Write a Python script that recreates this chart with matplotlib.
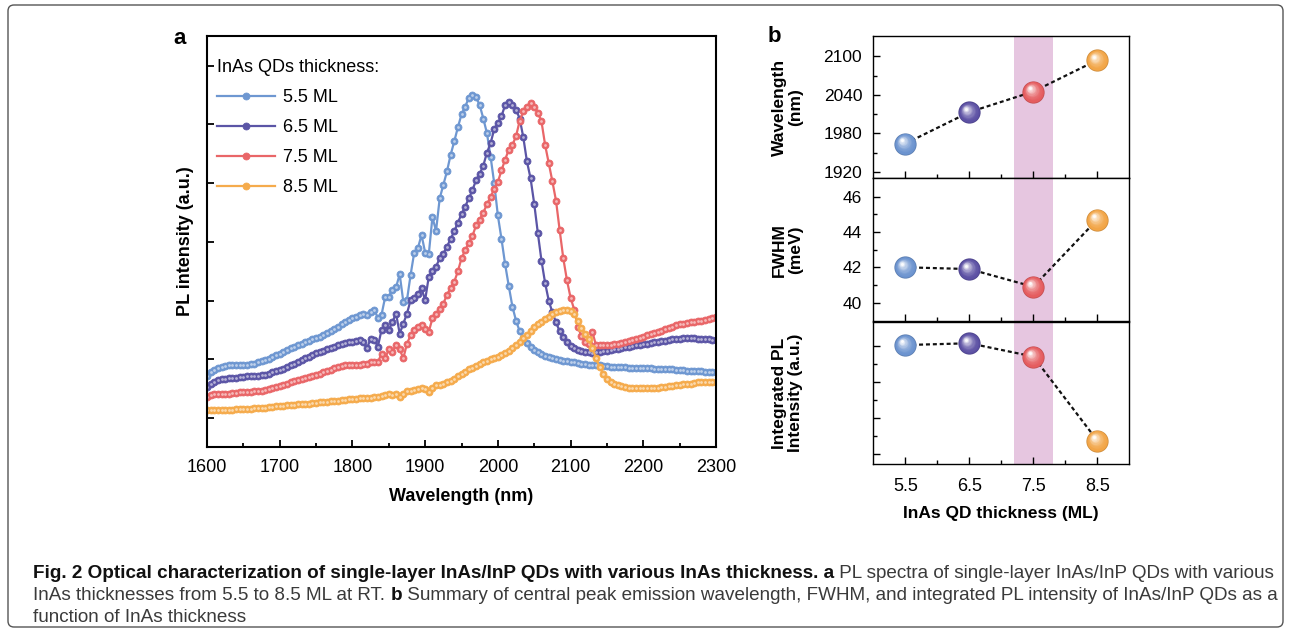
import numpy as np
import matplotlib
matplotlib.use('Agg')
import matplotlib.pyplot as plt
from matplotlib import transforms
from matplotlib.patches import FancyBboxPatch
from matplotlib.colors import to_rgb

plt.rcParams['font.family'] = ['Liberation Sans', 'DejaVu Sans']

# ---------------- data: panel a (PL spectra, arb. units) ----------------
wavelength = np.arange(1600, 2301, 5)

pl_55 = [0.72, 0.78, 0.82, 0.85, 0.87, 0.89, 0.90, 0.91, 0.90, 0.90,
         0.91, 0.91, 0.92, 0.93, 0.95, 0.97, 0.99, 1.01, 1.04, 1.07,
         1.10, 1.13, 1.16, 1.19, 1.22, 1.25, 1.27, 1.29, 1.32, 1.35,
         1.37, 1.39, 1.42, 1.45, 1.48, 1.52, 1.56, 1.60, 1.64, 1.67,
         1.70, 1.73, 1.75, 1.78, 1.75, 1.80, 1.84, 1.71, 1.76, 2.06,
         2.07, 2.19, 2.23, 2.45, 1.98, 2.01, 2.44, 2.82, 2.89, 3.12,
         2.82, 2.79, 3.42, 3.19, 3.74, 3.97, 4.20, 4.48, 4.71, 4.95,
         5.17, 5.30, 5.45, 5.50, 5.46, 5.33, 5.10, 4.85, 4.45, 4.00,
         3.45, 3.05, 2.62, 2.25, 1.90, 1.66, 1.48, 1.36, 1.28, 1.21,
         1.16, 1.12, 1.09, 1.06, 1.04, 1.02, 1.00, 0.99, 0.98, 0.97,
         0.96, 0.95, 0.94, 0.93, 0.92, 0.91, 0.91, 0.90, 0.90, 0.89,
         0.89, 0.88, 0.88, 0.87, 0.87, 0.87, 0.86, 0.86, 0.86, 0.86,
         0.85, 0.85, 0.85, 0.84, 0.84, 0.84, 0.83, 0.83, 0.83, 0.82,
         0.82, 0.82, 0.81, 0.81, 0.81, 0.80, 0.80, 0.79, 0.79, 0.78,
         0.78]

pl_65 = [0.53, 0.58, 0.62, 0.65, 0.66, 0.67, 0.68, 0.69, 0.69, 0.70,
         0.70, 0.71, 0.71, 0.72, 0.72, 0.73, 0.74, 0.76, 0.78, 0.80,
         0.82, 0.84, 0.87, 0.90, 0.93, 0.96, 0.99, 1.02, 1.05, 1.08,
         1.11, 1.13, 1.15, 1.17, 1.20, 1.22, 1.24, 1.26, 1.28, 1.29,
         1.30, 1.31, 1.33, 1.30, 1.19, 1.35, 1.33, 1.22, 1.50, 1.58,
         1.50, 1.64, 1.78, 1.44, 1.61, 1.78, 2.01, 2.04, 2.12, 2.21,
         2.01, 2.41, 2.50, 2.58, 2.72, 2.80, 2.92, 3.05, 3.18, 3.33,
         3.47, 3.60, 3.74, 3.88, 4.05, 4.16, 4.30, 4.52, 4.68, 4.92,
         5.03, 5.14, 5.33, 5.38, 5.33, 5.25, 5.10, 4.78, 4.37, 4.08,
         3.65, 3.15, 2.68, 2.30, 2.00, 1.80, 1.63, 1.48, 1.38, 1.29,
         1.23, 1.19, 1.16, 1.14, 1.13, 1.12, 1.11, 1.12, 1.13, 1.14,
         1.15, 1.16, 1.17, 1.18, 1.19, 1.21, 1.22, 1.23, 1.24, 1.25,
         1.26, 1.27, 1.28, 1.29, 1.30, 1.31, 1.32, 1.33, 1.34, 1.35,
         1.35, 1.36, 1.36, 1.36, 1.36, 1.35, 1.35, 1.34, 1.34, 1.33,
         1.33]

pl_75 = [0.36, 0.39, 0.41, 0.42, 0.42, 0.42, 0.42, 0.43, 0.43, 0.44,
         0.44, 0.45, 0.45, 0.46, 0.46, 0.47, 0.48, 0.49, 0.51, 0.53,
         0.55, 0.57, 0.59, 0.61, 0.63, 0.65, 0.66, 0.68, 0.70, 0.72,
         0.74, 0.76, 0.78, 0.80, 0.82, 0.85, 0.87, 0.89, 0.90, 0.91,
         0.91, 0.90, 0.90, 0.92, 0.93, 0.95, 0.96, 0.95, 1.10, 1.02,
         1.17, 1.12, 1.25, 1.17, 1.02, 1.27, 1.41, 1.50, 1.55, 1.58,
         1.52, 1.47, 1.70, 1.78, 1.86, 1.95, 2.10, 2.22, 2.32, 2.50,
         2.72, 2.86, 2.98, 3.10, 3.28, 3.38, 3.50, 3.64, 3.77, 3.90,
         4.02, 4.22, 4.40, 4.57, 4.65, 4.80, 5.06, 5.22, 5.30, 5.37,
         5.30, 5.20, 5.05, 4.65, 4.34, 4.03, 3.70, 3.20, 2.72, 2.35,
         2.05, 1.85, 1.55, 1.40, 1.30, 1.26, 1.47, 1.24, 1.24, 1.24,
         1.25, 1.25, 1.26, 1.27, 1.28, 1.30, 1.31, 1.33, 1.35, 1.37,
         1.39, 1.41, 1.43, 1.45, 1.47, 1.49, 1.52, 1.54, 1.56, 1.58,
         1.60, 1.61, 1.62, 1.63, 1.64, 1.65, 1.66, 1.67, 1.69, 1.71,
         1.73]

pl_85 = [0.14, 0.14, 0.14, 0.14, 0.14, 0.14, 0.14, 0.14, 0.15, 0.15,
         0.15, 0.16, 0.16, 0.17, 0.17, 0.18, 0.18, 0.19, 0.19, 0.20,
         0.21, 0.21, 0.22, 0.22, 0.23, 0.24, 0.24, 0.25, 0.25, 0.26,
         0.26, 0.27, 0.28, 0.28, 0.29, 0.30, 0.30, 0.31, 0.31, 0.32,
         0.33, 0.33, 0.34, 0.34, 0.35, 0.35, 0.36, 0.36, 0.38, 0.40,
         0.42, 0.40, 0.41, 0.36, 0.42, 0.46, 0.47, 0.48, 0.49, 0.51,
         0.50, 0.45, 0.52, 0.56, 0.57, 0.59, 0.62, 0.64, 0.67, 0.71,
         0.75, 0.79, 0.83, 0.86, 0.89, 0.92, 0.95, 0.98, 1.01, 1.03,
         1.05, 1.08, 1.11, 1.15, 1.19, 1.24, 1.30, 1.36, 1.42, 1.49,
         1.55, 1.60, 1.64, 1.68, 1.73, 1.77, 1.80, 1.83, 1.85, 1.85,
         1.83, 1.77, 1.66, 1.54, 1.44, 1.34, 1.20, 1.02, 0.87, 0.75,
         0.67, 0.62, 0.58, 0.56, 0.54, 0.53, 0.52, 0.52, 0.51, 0.51,
         0.51, 0.51, 0.51, 0.52, 0.52, 0.53, 0.53, 0.54, 0.55, 0.56,
         0.57, 0.58, 0.59, 0.59, 0.60, 0.61, 0.61, 0.62, 0.62, 0.62,
         0.61]

series_labels = ['5.5 ML', '6.5 ML', '7.5 ML', '8.5 ML']
series_values = [pl_55, pl_65, pl_75, pl_85]
line_colors = ['#6e97d1', '#5b55a6', '#e96668', '#f5ab4c']

# ---------------- data: panel b (summary) ----------------
thickness = [5.5, 6.5, 7.5, 8.5]
peak_wavelength = [1964, 2013, 2045, 2094]
fwhm = [42.0, 41.9, 40.9, 44.7]
integrated_pl = [4.02, 4.07, 3.70, 1.36]
sphere_colors = ['#6b93cf', '#5b4fa3', '#e55c5f', '#f2a546']

W, H = 1290, 632
fig = plt.figure(figsize=(W / 100, H / 100), dpi=100)

# ================= panel a =================
ax = fig.add_axes([207 / W, 1 - 447 / H, 509 / W, (447 - 35.7) / H])
handles = []
for lab, vals, col in zip(series_labels, series_values, line_colors):
    h, = ax.plot(wavelength, vals, '-o', color=col, lw=1.6, ms=5.0,
                 mfc=col, mec=col, mew=0.6, label=lab, zorder=2)
    ax.plot(wavelength, vals, 'o', ms=2.0, color='white', alpha=0.55,
            mec='none', zorder=2)
    handles.append(h)

ax.set_xlim(1600, 2300)
ax.set_ylim(-0.49, 6.51)
ax.set_xticks(np.arange(1600, 2301, 100))
ax.set_xticks(np.arange(1650, 2300, 100), minor=True)
ax.set_yticks(np.arange(0, 7))
ax.set_yticklabels([])
ax.tick_params(which='both', direction='in', width=1.3, labelsize=13, pad=9)
ax.tick_params(which='major', length=5)
ax.tick_params(which='minor', length=3)
for sp in ax.spines.values():
    sp.set_linewidth(1.5)
ax.set_xlabel('Wavelength (nm)', fontsize=13, fontweight='bold')
ax.xaxis.set_label_coords(0.5, -0.1)
ax.set_ylabel('PL intensity (a.u.)', fontsize=13, fontweight='bold')
ax.yaxis.set_label_coords(-0.025, 0.5)

leg = ax.legend(handles=handles, title='InAs QDs thickness:', loc='upper left',
                bbox_to_anchor=(0.02, 0.943), frameon=False, fontsize=13,
                title_fontsize=13, handlelength=3.2, handletextpad=0.45,
                labelspacing=0.72, borderpad=0, borderaxespad=0,
                alignment='left', numpoints=1)

fig.text(180 / W, 1 - 39 / H, 'a', fontsize=16, fontweight='bold',
         ha='center', va='center')
fig.text(774 / W, 1 - 37 / H, 'b', fontsize=16, fontweight='bold',
         ha='center', va='center')


# ================= panel b =================
def sphere(axis, xs, ys, colors, ms=16):
    for x, y, c in zip(xs, ys, colors):
        base = np.array(to_rgb(c))
        axis.plot([x], [y], 'o', ms=ms, color=base * 0.85, mec='none', zorder=3)
        n = 12
        for i in range(n):
            f = i / (n - 1)
            col = base * (1 - 0.97 * f ** 1.8) + 0.97 * f ** 1.8
            size = ms * (0.93 - 0.8 * f)
            tr = transforms.offset_copy(axis.transData, fig=axis.figure,
                                        x=-0.16 * ms * f, y=0.16 * ms * f,
                                        units='points')
            axis.plot([x], [y], 'o', ms=size, color=col, mec='none',
                      transform=tr, zorder=3 + 0.01 * i)


tops = [35.7, 178.3, 321.7]
hgt = 142.6
axes_b = [fig.add_axes([873.3 / W, 1 - (t + hgt) / H, 256 / W, hgt / H]) for t in tops]
b_values = [peak_wavelength, fwhm, integrated_pl]
b_labels = ['Wavelength\n(nm)', 'FWHM\n(meV)', 'Integrated PL\nIntensity (a.u.)']
b_ylims = [(1910, 2132), (38.97, 47.03), (0.70, 4.67)]
b_major = [[1920, 1980, 2040, 2100], [40, 42, 44, 46], [1, 2, 3, 4]]
b_minor = [[1950, 2010, 2070], [41, 43, 45], [1.5, 2.5, 3.5]]

for i, (axb, vals) in enumerate(zip(axes_b, b_values)):
    axb.axvspan(7.2, 7.8, color='#e6c6e0', lw=0, zorder=0)
    axb.plot(thickness, vals, '--', color='#111111', lw=1.6,
             dashes=(1.8, 1.3), zorder=2)
    sphere(axb, thickness, vals, sphere_colors)
    axb.set_xlim(5, 9)
    axb.set_ylim(*b_ylims[i])
    axb.set_xticks(thickness)
    axb.set_xticks([6, 7, 8], minor=True)
    axb.set_yticks(b_major[i])
    axb.set_yticks(b_minor[i], minor=True)
    axb.tick_params(which='both', direction='in', width=1.0, labelsize=12.5, pad=8)
    axb.tick_params(which='major', length=5)
    axb.tick_params(which='minor', length=3)
    for sp in axb.spines.values():
        sp.set_linewidth(1.0)
    axb.set_ylabel(b_labels[i], fontsize=12.5, fontweight='bold', linespacing=1.05)
    axb.yaxis.set_label_coords(-0.275, 0.5)
    if i < 2:
        axb.set_xticklabels([])
    else:
        axb.set_yticklabels([])
        axb.tick_params(axis='x', labelsize=13, pad=10)
        axb.set_xlabel('InAs QD thickness (ML)', fontsize=12.5, fontweight='bold')
        axb.xaxis.set_label_coords(0.5, -0.29)

# ================= caption =================
cap_family = ['Liberation Sans Narrow', 'Liberation Sans']
cap_lines = [
    [('Fig. 2 Optical characterization of single-layer InAs/InP QDs with various InAs thickness. a', True),
     (' PL spectra of single-layer InAs/InP QDs with various', False)],
    [('InAs thicknesses from 5.5 to 8.5 ML at RT. ', False), ('b', True),
     (' Summary of central peak emission wavelength, FWHM, and integrated PL intensity of InAs/InP QDs as a', False)],
    [('function of InAs thickness', False)],
]
cap_y = [578, 600, 622]
renderer = fig.canvas.get_renderer()

objs = []
for runs, yb in zip(cap_lines, cap_y):
    line = []
    for s, bold in runs:
        t = fig.text(33 / W, 1 - yb / H, s, fontsize=10, family=cap_family,
                     fontweight='bold' if bold else 'normal',
                     color='#111111' if bold else '#3a3a3a', va='baseline')
        line.append(t)
    objs.append(line)


def layout(size):
    widths = []
    for line in objs:
        x = 33.0
        for t in line:
            t.set_fontsize(size)
            t.set_x(x / W)
            x += t.get_window_extent(renderer).width
        widths.append(x - 33.0)
    return widths


w0 = layout(10)[0]
layout(10 * (1275 - 33) / w0)

border = FancyBboxPatch((8, H - 627), 1275, 622,
                        boxstyle='round,pad=0,rounding_size=6',
                        transform=transforms.IdentityTransform(),
                        fill=False, ec='#555555', lw=1.0)
fig.patches.append(border)

fig.savefig('out.png', dpi=100)
